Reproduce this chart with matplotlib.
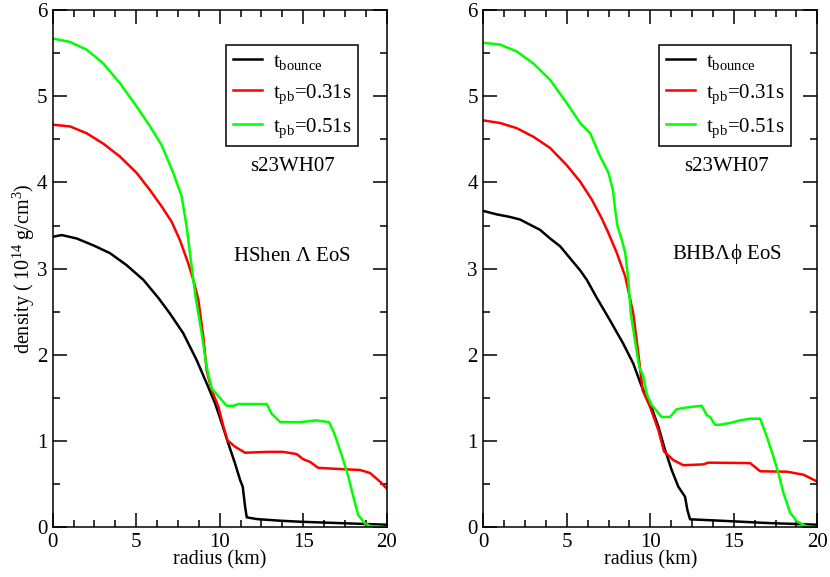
import numpy as np
import matplotlib
matplotlib.use("Agg")
import matplotlib.pyplot as plt
from matplotlib.ticker import MultipleLocator

plt.rcParams['font.family'] = ['Liberation Serif', 'DejaVu Serif']
plt.rcParams['mathtext.fontset'] = 'custom'
plt.rcParams['mathtext.rm'] = 'Liberation Serif'
plt.rcParams['mathtext.it'] = 'Liberation Serif'

# left panel: HShen Lambda EoS
hs_bounce_r = [0.0, 0.54, 1.44, 2.44, 3.43, 4.43, 5.43, 6.33, 7.02, 7.82, 8.62, 9.22,
               9.72, 10.12, 10.52, 10.92, 11.22, 11.38, 11.52, 11.62, 12.2, 13.6, 14.8,
               17.0, 20.0]
hs_bounce_d = [3.37, 3.39, 3.35, 3.27, 3.18, 3.04, 2.87, 2.66, 2.48, 2.25, 1.94, 1.67,
               1.44, 1.21, 0.97, 0.74, 0.55, 0.47, 0.24, 0.116, 0.096, 0.077, 0.065,
               0.05, 0.03]
hs_031_r = [0.0, 1.04, 2.04, 3.03, 4.03, 5.03, 5.83, 6.53, 7.12, 7.62, 8.12, 8.42,
            8.72, 9.02, 9.22, 9.52, 9.92, 10.22, 10.46, 10.92, 11.52, 12.82, 13.8,
            14.6, 15.0, 15.4, 15.9, 16.8, 18.4, 19.0, 19.6, 20.0]
hs_031_d = [4.67, 4.65, 4.57, 4.45, 4.30, 4.11, 3.91, 3.72, 3.545, 3.33, 3.06, 2.87,
            2.64, 2.21, 1.82, 1.59, 1.40, 1.17, 1.01, 0.935, 0.865, 0.875, 0.875,
            0.85, 0.79, 0.76, 0.69, 0.68, 0.665, 0.63, 0.53, 0.45]
hs_051_r = [0.0, 1.04, 2.04, 3.03, 4.03, 5.03, 5.83, 6.53, 7.22, 7.72, 8.02, 8.22,
            8.42, 8.58, 8.92, 9.22, 9.52, 9.92, 10.42, 10.82, 11.12, 12.82, 13.1,
            13.62, 14.8, 15.8, 16.55, 16.9, 17.4, 17.7, 18.0, 18.3, 18.7, 19.0, 20.0]
hs_051_d = [5.67, 5.63, 5.54, 5.38, 5.15, 4.88, 4.65, 4.43, 4.11, 3.84, 3.49, 3.18,
            2.87, 2.64, 2.25, 1.86, 1.61, 1.52, 1.41, 1.41, 1.43, 1.43, 1.32, 1.22,
            1.22, 1.24, 1.22, 1.07, 0.78, 0.59, 0.355, 0.14, 0.046, 0.015, 0.0]

# right panel: BHB Lambda phi EoS
bhb_bounce_r = [0.0, 0.8, 1.6, 2.2, 2.8, 3.4, 4.0, 4.6, 5.2, 5.8, 6.2, 6.8, 7.59,
                8.38, 8.98, 9.49, 9.98, 10.48, 10.88, 11.28, 11.68, 12.08, 12.22,
                12.38, 14.17, 17.0, 20.0]
bhb_bounce_d = [3.67, 3.63, 3.60, 3.57, 3.51, 3.45, 3.35, 3.26, 3.12, 2.98, 2.87, 2.66,
                2.40, 2.13, 1.90, 1.63, 1.44, 1.17, 0.90, 0.665, 0.47, 0.355, 0.20,
                0.093, 0.077, 0.05, 0.03]
bhb_031_r = [0.0, 1.0, 2.0, 3.0, 4.0, 5.0, 5.8, 6.5, 7.1, 7.5, 8.0, 8.5, 8.98, 9.28,
             9.54, 9.98, 10.48, 10.82, 11.38, 11.98, 13.17, 13.47, 15.98, 16.58,
             18.18, 19.18, 20.0]
bhb_031_d = [4.72, 4.69, 4.63, 4.53, 4.40, 4.20, 4.01, 3.80, 3.58, 3.41, 3.18, 2.91,
             2.48, 2.02, 1.59, 1.40, 1.13, 0.88, 0.78, 0.72, 0.73, 0.75, 0.745, 0.65,
             0.645, 0.61, 0.53]
bhb_051_r = [0.0, 1.0, 2.0, 3.0, 4.0, 5.0, 5.8, 6.4, 7.0, 7.5, 7.76, 7.9, 8.04, 8.3,
             8.5, 8.68, 8.83, 9.08, 9.34, 9.58, 9.78, 10.08, 10.68, 11.18, 11.58,
             12.18, 13.08, 13.38, 13.58, 13.87, 14.17, 14.77, 15.37, 15.97, 16.58,
             16.98, 17.37, 17.67, 17.97, 18.37, 18.77, 19.37, 20.0]
bhb_051_d = [5.62, 5.60, 5.52, 5.38, 5.19, 4.92, 4.69, 4.57, 4.30, 4.11, 3.91, 3.68,
             3.49, 3.33, 3.18, 2.87, 2.48, 2.17, 1.86, 1.75, 1.55, 1.42, 1.28, 1.28,
             1.37, 1.39, 1.41, 1.30, 1.28, 1.19, 1.19, 1.21, 1.24, 1.26, 1.26, 1.05,
             0.82, 0.63, 0.40, 0.17, 0.07, 0.01, 0.0]

labels = [r'$\mathregular{t_{bounce}}$', r'$\mathregular{t_{pb}}$=0.31s',
          r'$\mathregular{t_{pb}}$=0.51s']
colors = ['black', '#ff0000', '#00ff00']

panels = [
    ([(hs_bounce_r, hs_bounce_d), (hs_031_r, hs_031_d), (hs_051_r, hs_051_d)],
     'HShen $\\Lambda$ EoS', (14.33, 3.14), (0.915, 0.932)),
    ([(bhb_bounce_r, bhb_bounce_d), (bhb_031_r, bhb_031_d), (bhb_051_r, bhb_051_d)],
     'BHB$\\Lambda\\phi$ EoS', (14.57, 3.17), (0.922, 0.932)),
]

fig = plt.figure(figsize=(8.3, 5.77), dpi=100)
axes = [fig.add_axes([0.0635, 0.0861, 0.4024, 0.8965]),
        fig.add_axes([0.5823, 0.0861, 0.4024, 0.8965])]

for ax, (series, eos, eos_pos, leg_pos) in zip(axes, panels):
    for (r, d), c, lab in zip(series, colors, labels):
        ax.plot(r, d, color=c, lw=1.8, label=lab)
    ax.set_xlim(0, 20)
    ax.set_ylim(0, 6)
    ax.xaxis.set_major_locator(MultipleLocator(5))
    ax.xaxis.set_minor_locator(MultipleLocator(1.25))
    ax.yaxis.set_major_locator(MultipleLocator(1))
    ax.yaxis.set_minor_locator(MultipleLocator(0.5))
    ax.tick_params(which='both', direction='in', top=True, right=True,
                   labelsize=15, width=1.1)
    ax.tick_params(which='major', length=10, pad=4)
    ax.tick_params(which='minor', length=5)
    for s in ax.spines.values():
        s.set_linewidth(1.1)
    ax.set_xlabel('radius (km)', fontsize=14.5, labelpad=-1)
    ax.text(eos_pos[0], 4.18, 's23WH07', fontsize=15, ha='center', va='center')
    ax.text(eos_pos[0], eos_pos[1], eos, fontsize=15, ha='center', va='center')
    leg = ax.legend(loc='upper right', bbox_to_anchor=leg_pos, borderaxespad=0,
                    fontsize=15, fancybox=False, framealpha=1, edgecolor='black',
                    handlelength=1.4, handletextpad=0.5, labelspacing=0.5,
                    borderpad=0.33)
    leg.get_frame().set_linewidth(1.1)

axes[0].set_ylabel('density ( 10$^{14}$ g/cm$^3$)', fontsize=14.5, labelpad=0)

plt.savefig('out.png', dpi=100)
